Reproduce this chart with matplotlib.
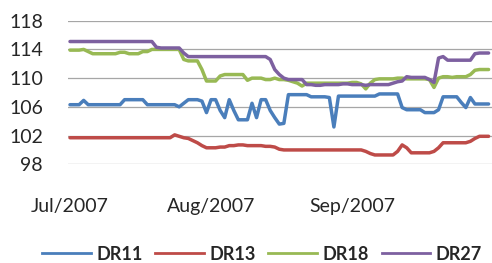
import matplotlib
matplotlib.use("Agg")
import matplotlib.pyplot as plt
import matplotlib.dates as mdates
import pandas as pd
from matplotlib.lines import Line2D

start_date = "2007-07-01"
n_days = 93

dr11 = [106.3, 106.3, 106.3, 106.9, 106.3,
        106.3, 106.3, 106.3, 106.3, 106.3, 106.3, 106.3,
        107.0, 107.0, 107.0, 107.0, 107.0,
        106.3, 106.3, 106.3, 106.3, 106.3, 106.3, 106.3,
        106.0, 106.5,
        107.0, 107.0, 107.0, 106.8, 105.2, 107.0, 107.0, 105.5, 104.5, 107.0,
        105.5, 104.2, 104.2, 104.2, 106.5, 104.5, 107.0, 107.0, 105.5, 104.5,
        103.6, 103.7,
        107.7, 107.7, 107.7, 107.7, 107.7,
        107.4, 107.4, 107.4, 107.4,
        107.3, 103.2,
        107.5, 107.5, 107.5, 107.5, 107.5, 107.5, 107.5, 107.5, 107.5,
        107.8, 107.8, 107.8, 107.8, 107.8,
        105.9,
        105.6, 105.6, 105.6, 105.6,
        105.2, 105.2, 105.2,
        105.6,
        107.4, 107.4, 107.4, 107.4,
        106.6, 105.9, 107.3,
        106.4, 106.4, 106.4, 106.4]

dr13 = [101.7, 101.7, 101.7, 101.7, 101.7, 101.7, 101.7, 101.7, 101.7, 101.7,
        101.7, 101.7, 101.7, 101.7, 101.7, 101.7, 101.7, 101.7, 101.7, 101.7,
        101.7, 101.7, 101.7,
        102.1, 101.9, 101.7, 101.6, 101.3, 101.0, 100.6, 100.3,
        100.3, 100.3, 100.4, 100.4,
        100.6, 100.6, 100.7, 100.7, 100.6, 100.6, 100.6, 100.6, 100.5, 100.5,
        100.4, 100.1,
        100.0, 100.0, 100.0, 100.0, 100.0, 100.0, 100.0, 100.0, 100.0,
        100.0, 100.0, 100.0, 100.0, 100.0, 100.0, 100.0, 100.0, 100.0,
        99.8, 99.5,
        99.3, 99.3, 99.3, 99.3, 99.3,
        99.8, 100.7, 100.3,
        99.6, 99.6, 99.6, 99.6, 99.6,
        99.8, 100.3,
        101.0, 101.0, 101.0, 101.0, 101.0, 101.0,
        101.2, 101.6,
        101.9, 101.9, 101.9]

dr18 = [113.9, 113.9, 113.9, 114.0, 113.7,
        113.4, 113.4, 113.4, 113.4, 113.4, 113.4,
        113.6, 113.6,
        113.4, 113.4, 113.4,
        113.7, 113.7,
        114.0, 114.0, 114.0, 114.0, 114.0, 114.0, 114.0,
        112.6, 112.4, 112.4, 112.4, 111.2,
        109.6, 109.6, 109.6,
        110.3,
        110.5, 110.5, 110.5, 110.5, 110.5,
        109.7, 110.0, 110.0, 110.0,
        109.8, 109.8, 110.0, 109.8, 109.8,
        109.7, 109.5, 109.3, 108.9,
        109.3, 109.3, 109.3, 109.3, 109.3, 109.3, 109.3, 109.3, 109.3,
        109.3, 109.4, 109.4, 109.2,
        108.5, 109.3, 109.8,
        109.9, 109.9, 109.9, 109.9, 110.0, 110.0, 109.9, 109.9, 109.9,
        109.9, 109.9, 109.8,
        108.7, 110.0,
        110.2, 110.2, 110.1, 110.2, 110.2, 110.2,
        110.5, 111.1,
        111.2, 111.2, 111.2]

dr27 = [115.1, 115.1, 115.1, 115.1, 115.1, 115.1, 115.1, 115.1, 115.1, 115.1,
        115.1, 115.1, 115.1, 115.1, 115.1, 115.1, 115.1, 115.1, 115.1,
        114.3,
        114.2, 114.2, 114.2, 114.2, 114.2,
        113.5,
        113.0, 113.0, 113.0, 113.0, 113.0, 113.0, 113.0, 113.0, 113.0,
        113.0, 113.0, 113.0, 113.0, 113.0, 113.0, 113.0, 113.0, 113.0,
        112.6, 111.2, 110.5, 110.0,
        109.8, 109.8, 109.8, 109.8,
        109.1, 109.1, 109.0, 109.0, 109.1, 109.1, 109.1, 109.1, 109.2, 109.2,
        109.1, 109.1, 109.1, 109.0, 109.1, 109.1, 109.1, 109.1, 109.1,
        109.3, 109.5, 109.6,
        110.2,
        110.1, 110.1, 110.1, 110.1,
        109.8, 109.4, 112.8, 113.0,
        112.5, 112.5, 112.5, 112.5, 112.5, 112.5,
        113.4,
        113.5, 113.5, 113.5]

series_names = ["DR11", "DR13", "DR18", "DR27"]
series_values = [dr11, dr13, dr18, dr27]
series_colors = ["#4A7EBB", "#BE4B48", "#98B954", "#7D60A0"]

y_ticks = [98, 102, 106, 110, 114, 118]
x_tick_dates = ["2007-07-01", "2007-08-01", "2007-09-01"]

dates = pd.date_range(start_date, periods=n_days, freq="D")

plt.rcParams["font.family"] = ["Lato", "DejaVu Sans"]

W, H = 492, 263
fig = plt.figure(figsize=(W / 100, H / 100), dpi=100)
ax = fig.add_axes([68 / W, 1 - 164.3 / H, 1 - 68 / W, (164.3 - 20.7) / H])

for name, vals, col in zip(series_names, series_values, series_colors):
    ax.plot(dates, vals, color=col, lw=2.5, solid_joinstyle="round",
            solid_capstyle="round", label=name, zorder=3)

ax.set_ylim(98, 118)
ax.set_yticks(y_ticks)
px_day = 4.55
x0 = dates[0] - pd.Timedelta(days=2 / px_day)
x1 = x0 + pd.Timedelta(days=(W - 68) / px_day)
ax.set_xlim(x0, x1)
ax.set_xticks(pd.to_datetime(x_tick_dates))
ax.xaxis.set_major_formatter(mdates.DateFormatter("%b/%Y"))

ax.grid(axis="y", color="#A6A6A6", lw=0.9, zorder=1)
for s in ax.spines.values():
    s.set_visible(False)
ax.tick_params(axis="both", length=0, labelsize=14, colors="#262626")
ax.tick_params(axis="y", pad=18)
ax.tick_params(axis="x", pad=24)

handles = [Line2D([], [], color=c, lw=2.0) for c in series_colors]
fig.legend(handles, series_names, loc="center", ncol=4,
           bbox_to_anchor=(262 / W, 1 - 254 / H), frameon=False,
           prop={"weight": "bold", "size": 13}, handlelength=2.7,
           handletextpad=0.3, columnspacing=0.7, borderpad=0,
           labelcolor="#262626")

fig.savefig("out.png", dpi=100)
